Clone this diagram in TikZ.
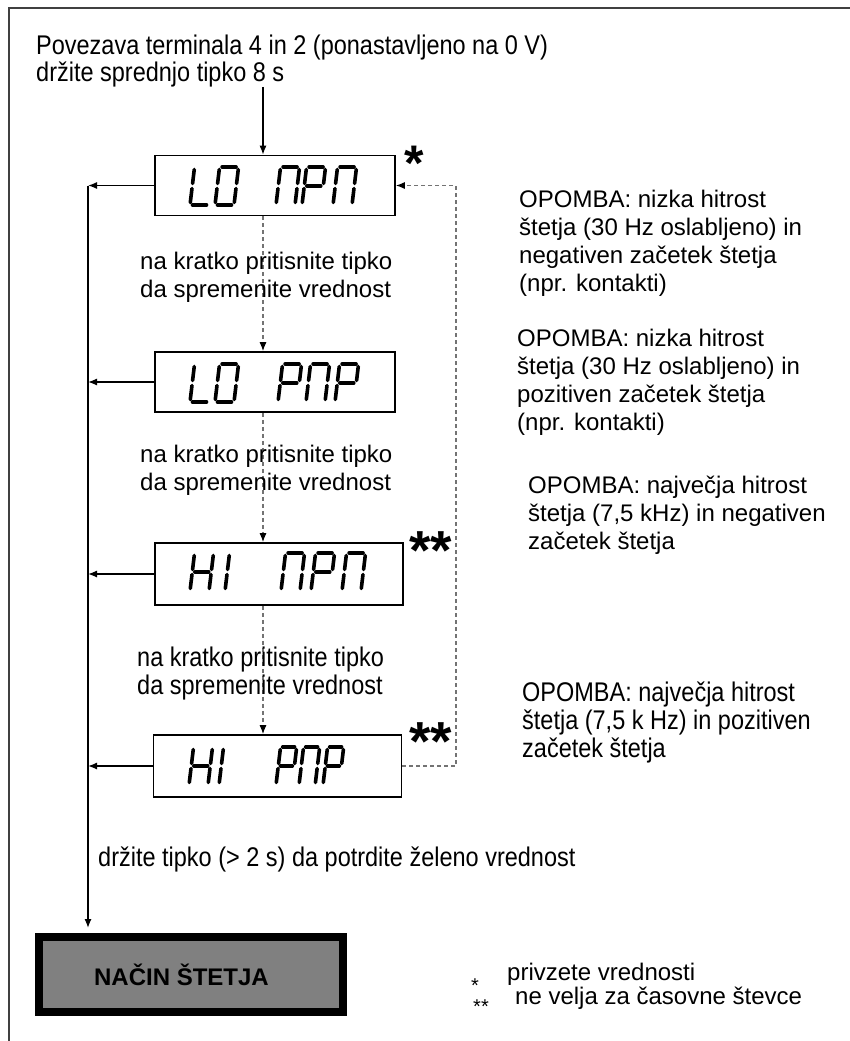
\documentclass[tikz,border=0pt]{standalone}
\usepackage{fontspec}
\setmainfont{Liberation Sans}
\newfontfamily\narrowfont[FakeStretch=0.87]{Liberation Sans}
\usetikzlibrary{arrows.meta}
\newcommand\sgA{\draw[lcdseg] (2.5,38)--(16.5,38);}
\newcommand\sgB{\draw[lcdseg] (19,35.5)--(19,21.5);}
\newcommand\sgC{\draw[lcdseg] (19,16.5)--(19,2.5);}
\newcommand\sgD{\draw[lcdseg] (2.5,0)--(16.5,0);}
\newcommand\sgE{\draw[lcdseg] (0,16.5)--(0,2.5);}
\newcommand\sgF{\draw[lcdseg] (0,35.5)--(0,21.5);}
\newcommand\sgG{\draw[lcdseg] (2.5,19)--(16.5,19);}
\newcommand\lcdchar[4][1]{\begin{scope}[shift={(#2,#3)},x=#1pt,y=1pt,xslant=0.12]#4\end{scope}}
\newcommand\chL{\sgD\sgE\sgF}
\newcommand\chO{\sgA\sgB\sgC\sgD\sgE\sgF}
\newcommand\chN{\sgA\sgB\sgC\sgE\sgF}
\newcommand\chP{\sgA\sgB\sgE\sgF\sgG}
\newcommand\chH{\sgB\sgC\sgE\sgF\sgG}
\newcommand\chI{\sgE\sgF}
\begin{document}
\begin{tikzpicture}[x=1pt,y=-1pt,
  lcdseg/.style={line width=3.6pt,line cap=round},
  lcdbox/.style={draw,line width=1.6pt,minimum width=#1,minimum height=60pt,inner sep=0pt},
  conn/.style={line width=1.3pt,draw=black},
  arr/.style={-{Latex[length=9pt,width=7pt,color=black]}},
  dashline/.style={draw=black!55,line width=1.2pt,dash pattern=on 4pt off 3pt},
  reg/.style={inner sep=0pt,anchor=north west,align=left,font=\fontsize{24}{28}\selectfont},
  nar/.style={inner sep=0pt,anchor=north west,align=left,font=\narrowfont\fontsize{27}{28}\selectfont},
  star/.style={inner sep=0pt,anchor=base,font=\bfseries\fontsize{#1}{#1}\selectfont}]
\useasboundingbox (0,0) rectangle (850,1041);
\draw[line width=1.5pt,black!75] (9,1041) -- (9,8) -- (850,8);

\coordinate (cx) at (263,0);
\coordinate (lx) at (88,0);
\coordinate (fb) at (456,0);

% title
\node[nar,font=\narrowfont\fontsize{27}{25}\selectfont] (title) at (36,35) {Povezava terminala 4 in 2 (ponastavljeno na 0 V)\\držite sprednjo tipko 8 s};

% display boxes
\node[lcdbox=240pt] (b1) at (275,185.5) {};
\node[lcdbox=240pt] (b2) at (275,382) {};
\node[lcdbox=248pt,minimum height=62pt] (b3) at (279,574) {};
\node[lcdbox=248pt,minimum height=62pt] (b4) at (277.5,766) {};

% LCD glyphs
\lcdchar{190}{205}{\chL}\lcdchar{215}{205}{\chO}
\lcdchar{276}{205}{\chN}\lcdchar{302}{205}{\chP}\lcdchar{333}{205}{\chN}
\lcdchar{190}{402}{\chL}\lcdchar{215}{402}{\chO}
\lcdchar{278}{402}{\chP}\lcdchar{306}{402}{\chN}\lcdchar{335}{402}{\chP}
\lcdchar{190}{591}{\chH}\lcdchar{225}{591}{\chI}
\lcdchar{281}{591}{\chN}\lcdchar{311}{591}{\chP}\lcdchar{342}{591}{\chN}
\lcdchar{189}{785}{\chH}\lcdchar{219}{785}{\chI}
\lcdchar[0.85]{276}{785}{\chP}\lcdchar[0.85]{299}{785}{\chN}\lcdchar[0.85]{323}{785}{\chP}

% asterisks
\node[star=50] (s1) at (414,180) {*};
\node[star=55] (s3) at (431,569) {**};
\node[star=55] (s4) at (431,760) {**};

% final box
\node[draw,line width=8pt,fill=black!50,minimum width=304pt,minimum height=75pt,inner sep=0pt,
  font=\bfseries\fontsize{24}{24}\selectfont] (nacin) at (191,974.5) {\hspace*{-19pt}NAČIN ŠTETJA};

% connectors
\draw[conn,arr] (title.south -| cx) -- (b1.north -| cx);
\draw[conn,arr] (b1.west) -- (b1.west -| lx);
\draw[conn,arr] (b2.west) -- (b2.west -| lx);
\draw[conn,arr] (b3.west) -- (b3.west -| lx);
\draw[conn,arr] (b4.west) -- (b4.west -| lx);
\draw[conn,arr,shorten >=5pt] (b1.west -| lx) -- (nacin.north -| lx);
\draw[dashline,arr] (b1.south -| cx) -- (b2.north -| cx);
\draw[dashline,arr] (b2.south -| cx) -- (b3.north -| cx);
\draw[dashline,arr] (b3.south -| cx) -- (b4.north -| cx);
\draw[dashline,arr] (b4.east) -| (fb |- b1.east) -- (b1.east);

% instructions
\node[reg] (i1) at (140,252) {na kratko pritisnite tipko\\da spremenite vrednost};
\node[reg] (i2) at (140,445) {na kratko pritisnite tipko\\da spremenite vrednost};
\node[nar] (i3) at (137,647) {na kratko pritisnite tipko\\da spremenite vrednost};
\node[nar] (i4) at (98,847) {držite tipko (> 2 s) da potrdite želeno vrednost};

% notes
\node[reg] (n1) at (519,190) {OPOMBA: nizka hitrost\\štetja (30 Hz oslabljeno) in\\negativen začetek štetja\\(npr. kontakti)};
\node[reg] (n2) at (517,329) {OPOMBA: nizka hitrost\\štetja (30 Hz oslabljeno) in\\pozitiven začetek štetja\\(npr. kontakti)};
\node[reg] (n3) at (528,476) {OPOMBA: največja hitrost\\štetja (7,5 kHz) in negativen\\začetek štetja};
\node[nar] (n4) at (522,682) {OPOMBA: največja hitrost\\štetja (7,5 k Hz) in pozitiven\\začetek štetja};

% legend
\node[inner sep=0pt,anchor=base,font=\fontsize{20}{20}\selectfont] (l1s) at (475,992) {*};
\node[inner sep=0pt,anchor=base west,font=\fontsize{24}{24}\selectfont] (l1) at (507,980) {privzete vrednosti};
\node[inner sep=0pt,anchor=base,font=\fontsize{20}{20}\selectfont] (l2s) at (481,1013) {**};
\node[inner sep=0pt,anchor=base west,font=\fontsize{24}{24}\selectfont] (l2) at (515,1004) {ne velja za časovne števce};
\end{tikzpicture}
\end{document}
